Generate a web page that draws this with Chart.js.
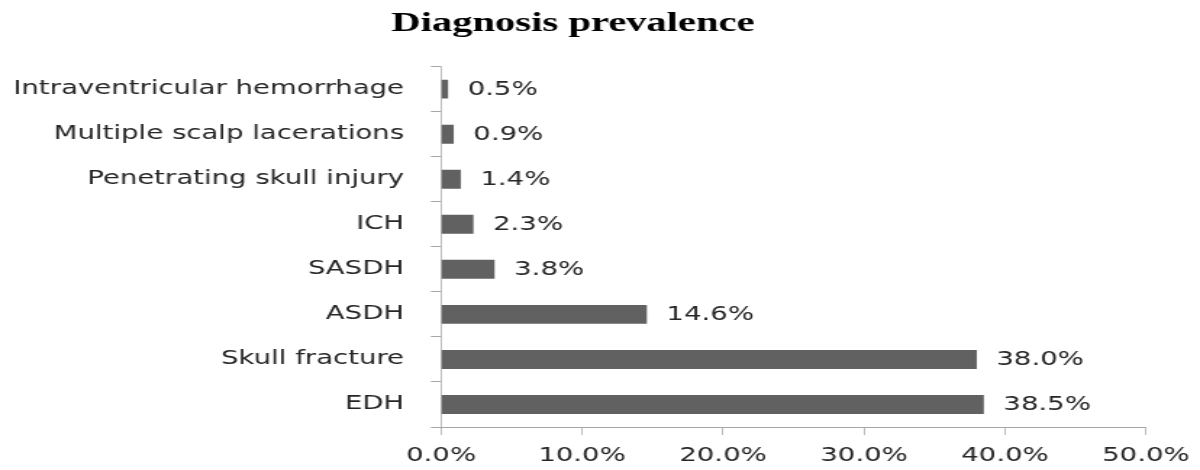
<!DOCTYPE html>
<html>
<head>
<meta charset="utf-8">
<script src="https://cdn.jsdelivr.net/npm/chart.js@4/dist/chart.umd.min.js"></script>
<style>
  body { margin: 0; background: #fff; }
  /* the reference is a horizontally stretched picture, so the canvas is drawn narrow and scaled */
  #chart { display: block; width: 1200px !important; height: 470px !important; }
</style>
</head>
<body>
<canvas id="chart" width="828" height="470" style="width:1200px;height:470px"></canvas>
<script>
// Chart data
const categories = [
    'Intraventricular hemorrhage',
    'Multiple scalp lacerations',
    'Penetrating skull injury',
    'ICH',
    'SASDH',
    'ASDH',
    'Skull fracture',
    'EDH'
];
const prevalence = [0.5, 0.9, 1.4, 2.3, 3.8, 14.6, 38.0, 38.5];
const xTicks = [0, 10, 20, 30, 40, 50];

const axisGray = '#a6a6a6';
const textColor = '#262626';
const labelFont = { family: '"DejaVu Sans", sans-serif', size: 19 };

// Value labels at the end of each bar
const valueLabels = {
    id: 'valueLabels',
    afterDatasetsDraw(chart) {
        const ctx = chart.ctx;
        const meta = chart.getDatasetMeta(0);
        ctx.save();
        ctx.font = '19px "DejaVu Sans", sans-serif';
        ctx.fillStyle = textColor;
        ctx.textAlign = 'left';
        ctx.textBaseline = 'middle';
        meta.data.forEach((bar, i) => {
            ctx.fillText(prevalence[i].toFixed(1) + '%', bar.x + 13.5, bar.y + 1);
        });
        ctx.restore();
    }
};

const ctx = document.getElementById('chart').getContext('2d');
const chart = new Chart(ctx, {
    type: 'bar',
    data: {
        labels: categories,
        datasets: [{
            data: prevalence,
            backgroundColor: '#616161',
            borderWidth: 0,
            barPercentage: 0.42,
            categoryPercentage: 1
        }]
    },
    options: {
        indexAxis: 'y',
        responsive: false,
        animation: false,
        devicePixelRatio: 1,
        layout: { padding: { top: 0, right: 37.3, bottom: 0, left: 0 } },
        plugins: {
            legend: { display: false },
            tooltip: { enabled: false },
            title: {
                display: true,
                text: 'Diagnosis prevalence',
                color: '#000',
                font: { family: '"Liberation Serif", "Times New Roman", serif', size: 28, weight: 'bold' },
                padding: { top: 7, bottom: 26 }
            }
        },
        scales: {
            x: {
                min: 0,
                max: 50,
                afterBuildTicks: (scale) => {
                    scale.ticks = xTicks.map(v => ({ value: v }));
                },
                afterFit: (scale) => {
                    scale.height = 43;
                    scale.paddingLeft = 0;
                    scale.paddingRight = 0;
                },
                border: { color: axisGray, width: 1 },
                grid: {
                    drawOnChartArea: false,
                    drawTicks: true,
                    tickLength: 8,
                    color: axisGray,
                    lineWidth: 0.75
                },
                ticks: {
                    color: textColor,
                    font: labelFont,
                    padding: 10,
                    maxRotation: 0,
                    callback: (v) => Number(v).toFixed(1) + '%'
                }
            },
            y: {
                afterFit: (scale) => { scale.width = 304.3; },
                border: { color: axisGray, width: 0.75 },
                grid: {
                    offset: true,
                    drawOnChartArea: false,
                    drawTicks: true,
                    tickLength: 7,
                    color: axisGray,
                    lineWidth: 1
                },
                ticks: {
                    color: textColor,
                    font: labelFont,
                    padding: 18.5
                }
            }
        }
    },
    plugins: [valueLabels]
});
</script>
</body>
</html>
